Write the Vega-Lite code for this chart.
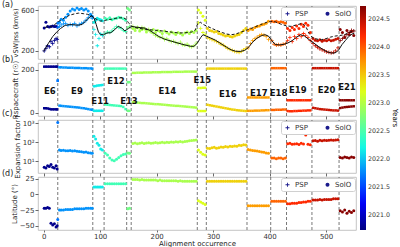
{
  "$schema": "https://vega.github.io/schema/vega-lite/v6.json",
  "padding": {"left": 1, "top": 0, "right": 0, "bottom": 0},
  "config": {
    "font": "DejaVu Sans",
    "view": {"stroke": "#b5b5b5", "strokeWidth": 0.8},
    "axis": {"grid": false, "domain": false, "tickSize": 3, "tickColor": "#444", "tickWidth": 0.8, "labelFontSize": 7, "labelColor": "#333", "labelPadding": 1, "titleFontSize": 7, "titleFontWeight": "normal", "titleColor": "#222", "titlePadding": 2},
    "title": {"fontSize": 8, "fontWeight": "normal", "color": "#222", "anchor": "start", "frame": "group", "dx": -36, "offset": -3.5}
  },
  "datasets": {
    "bounds": [{"b": 25}, {"b": 87}, {"b": 107}, {"b": 147}, {"b": 155}, {"b": 272}, {"b": 288}, {"b": 360}, {"b": 402}, {"b": 430}, {"b": 475}, {"b": 523}],
    "tags": [
      {"e": "E6", "o": 11, "r": 104}, {"e": "E9", "o": 59, "r": 104}, {"e": "E11", "o": 100, "r": 54},
      {"e": "E12", "o": 128, "r": 150}, {"e": "E13", "o": 151, "r": 54}, {"e": "E14", "o": 219, "r": 101},
      {"e": "E15", "o": 281, "r": 152}, {"e": "E16", "o": 326, "r": 90}, {"e": "E17", "o": 381, "r": 93},
      {"e": "E18", "o": 416, "r": 93}, {"e": "E19", "o": 450, "r": 105}, {"e": "E20", "o": 501, "r": 105},
      {"e": "E21", "o": 537, "r": 121}
    ],
    "avgP": [
      {"o": 0, "v": 194}, {"o": 8, "v": 270}, {"o": 16, "v": 340}, {"o": 24, "v": 390}, {"o": 30, "v": 420}, {"o": 38, "v": 450},
      {"o": 46, "v": 458}, {"o": 54, "v": 455}, {"o": 62, "v": 452}, {"o": 68, "v": 460}, {"o": 74, "v": 490}, {"o": 80, "v": 525},
      {"o": 85, "v": 545}, {"o": 89, "v": 525}, {"o": 93, "v": 460}, {"o": 97, "v": 385}, {"o": 101, "v": 360}, {"o": 106, "v": 358},
      {"o": 112, "v": 375}, {"o": 119, "v": 378}, {"o": 126, "v": 410}, {"o": 132, "v": 440}, {"o": 138, "v": 425}, {"o": 144, "v": 395},
      {"o": 150, "v": 420}, {"o": 156, "v": 440}, {"o": 164, "v": 432}, {"o": 172, "v": 428}, {"o": 180, "v": 422}, {"o": 188, "v": 400},
      {"o": 196, "v": 370}, {"o": 204, "v": 340}, {"o": 214, "v": 315}, {"o": 226, "v": 295}, {"o": 238, "v": 276}, {"o": 250, "v": 258},
      {"o": 260, "v": 245}, {"o": 266, "v": 244}, {"o": 272, "v": 275}, {"o": 278, "v": 330}, {"o": 282, "v": 358}, {"o": 288, "v": 345},
      {"o": 296, "v": 325}, {"o": 304, "v": 305}, {"o": 314, "v": 270}, {"o": 324, "v": 235}, {"o": 332, "v": 210}, {"o": 340, "v": 196},
      {"o": 348, "v": 194}, {"o": 356, "v": 205}, {"o": 362, "v": 230}, {"o": 370, "v": 285}, {"o": 378, "v": 325}, {"o": 386, "v": 350},
      {"o": 392, "v": 358}, {"o": 398, "v": 345}, {"o": 404, "v": 300}, {"o": 410, "v": 262}, {"o": 418, "v": 258}, {"o": 426, "v": 265},
      {"o": 432, "v": 276}, {"o": 440, "v": 300}, {"o": 448, "v": 335}, {"o": 455, "v": 358}, {"o": 462, "v": 345}, {"o": 470, "v": 310},
      {"o": 478, "v": 278}, {"o": 486, "v": 245}, {"o": 494, "v": 215}, {"o": 502, "v": 190}, {"o": 510, "v": 178}, {"o": 516, "v": 180},
      {"o": 522, "v": 205}, {"o": 528, "v": 260}, {"o": 534, "v": 300}, {"o": 540, "v": 340}, {"o": 546, "v": 365}, {"o": 550, "v": 372}
    ],
    "avgS": [
      {"o": 2, "v": 430}, {"o": 8, "v": 435}, {"o": 14, "v": 440}, {"o": 20, "v": 460}, {"o": 27, "v": 490}, {"o": 36, "v": 520},
      {"o": 46, "v": 550}, {"o": 56, "v": 565}, {"o": 62, "v": 570}, {"o": 70, "v": 565}, {"o": 78, "v": 558}, {"o": 84, "v": 545},
      {"o": 89, "v": 525}, {"o": 95, "v": 505}, {"o": 100, "v": 492}, {"o": 106, "v": 495}, {"o": 113, "v": 505}, {"o": 120, "v": 510},
      {"o": 128, "v": 520}, {"o": 136, "v": 525}, {"o": 142, "v": 522}, {"o": 146, "v": 510}, {"o": 150, "v": 478}, {"o": 155, "v": 445},
      {"o": 162, "v": 428}, {"o": 170, "v": 420}, {"o": 180, "v": 410}, {"o": 192, "v": 405}, {"o": 202, "v": 400}, {"o": 215, "v": 392},
      {"o": 228, "v": 382}, {"o": 240, "v": 375}, {"o": 252, "v": 378}, {"o": 262, "v": 385}, {"o": 268, "v": 400}, {"o": 273, "v": 470},
      {"o": 278, "v": 480}, {"o": 282, "v": 460}, {"o": 290, "v": 440}, {"o": 298, "v": 420}, {"o": 306, "v": 400}, {"o": 316, "v": 380},
      {"o": 324, "v": 365}, {"o": 332, "v": 358}, {"o": 340, "v": 365}, {"o": 350, "v": 385}, {"o": 361, "v": 407}, {"o": 372, "v": 430},
      {"o": 384, "v": 457}, {"o": 394, "v": 478}, {"o": 402, "v": 490}, {"o": 410, "v": 485}, {"o": 420, "v": 462}, {"o": 430, "v": 445},
      {"o": 438, "v": 440}, {"o": 448, "v": 455}, {"o": 458, "v": 470}, {"o": 464, "v": 440}, {"o": 470, "v": 370}, {"o": 476, "v": 330},
      {"o": 484, "v": 315}, {"o": 492, "v": 310}, {"o": 500, "v": 320}, {"o": 508, "v": 335}, {"o": 516, "v": 345}, {"o": 524, "v": 350},
      {"o": 532, "v": 358}, {"o": 540, "v": 375}, {"o": 546, "v": 392}, {"o": 550, "v": 400}
    ],
    "obs": [
      {"o": 1, "yr": 2020.78, "vp": 200, "vs": 425, "ru": 215, "rl": 22, "f": 5, "lat": -22},
      {"o": 4, "yr": 2020.78, "vp": 225, "vs": 480, "ru": 215, "rl": 22, "f": 4.5, "lat": -22},
      {"o": 7, "yr": 2020.78, "vp": 250, "vs": 440, "ru": 215, "rl": 21, "f": 6, "lat": -21},
      {"o": 10, "yr": 2020.78, "vp": 240, "vs": 435, "ru": 215, "rl": 19, "f": 5.5, "lat": -22},
      {"o": 13, "yr": 2020.78, "vp": 290, "vs": 440, "ru": 215, "rl": 17, "f": 7, "lat": -46},
      {"o": 16, "yr": 2020.78, "vp": 270, "vs": 445, "ru": 215, "rl": 17, "f": 5, "lat": -49},
      {"o": 19, "yr": 2020.78, "vp": 300, "vs": 440, "ru": 215, "rl": 17, "f": 4.5, "lat": -47},
      {"o": 22, "yr": 2020.78, "vp": 320, "vs": 440, "ru": 215, "rl": 17, "f": 6, "lat": -52},
      {"o": 24, "yr": 2020.78, "vp": 310, "vs": 435, "ru": 215, "rl": 17, "f": 4, "lat": -50},
      {"o": 25, "yr": 2021.7, "vp": 430, "vs": 470, "ru": 150, "rl": 150, "f": 1100, "lat": -40},
      {"o": 28, "yr": 2021.8, "vp": 440, "vs": 480, "ru": 212, "rl": 34, "f": 40, "lat": -25},
      {"o": 31, "yr": 2021.8, "vp": 455, "vs": 510, "ru": 212, "rl": 33, "f": 38, "lat": -25},
      {"o": 35, "yr": 2021.8, "vp": 465, "vs": 500, "ru": 211, "rl": 32, "f": 39, "lat": -25},
      {"o": 39, "yr": 2021.8, "vp": 470, "vs": 530, "ru": 211, "rl": 31, "f": 37, "lat": -24},
      {"o": 43, "yr": 2021.8, "vp": 450, "vs": 560, "ru": 210, "rl": 30, "f": 36, "lat": -24},
      {"o": 47, "yr": 2021.8, "vp": 460, "vs": 590, "ru": 210, "rl": 29, "f": 38, "lat": -24},
      {"o": 51, "yr": 2021.8, "vp": 455, "vs": 610, "ru": 210, "rl": 28, "f": 35, "lat": -24},
      {"o": 55, "yr": 2021.8, "vp": 470, "vs": 600, "ru": 209, "rl": 27, "f": 36, "lat": -23},
      {"o": 59, "yr": 2021.8, "vp": 445, "vs": 620, "ru": 209, "rl": 26, "f": 34, "lat": -23},
      {"o": 63, "yr": 2021.8, "vp": 460, "vs": 605, "ru": 209, "rl": 25, "f": 33, "lat": -23},
      {"o": 67, "yr": 2021.8, "vp": 470, "vs": 615, "ru": 208, "rl": 23, "f": 32, "lat": -23},
      {"o": 71, "yr": 2021.8, "vp": 480, "vs": 600, "ru": 208, "rl": 22, "f": 30, "lat": -23},
      {"o": 75, "yr": 2021.8, "vp": 500, "vs": 610, "ru": 208, "rl": 20, "f": 31, "lat": -22},
      {"o": 79, "yr": 2021.8, "vp": 525, "vs": 590, "ru": 207, "rl": 18, "f": 29, "lat": -22},
      {"o": 83, "yr": 2021.8, "vp": 545, "vs": 560, "ru": 207, "rl": 16, "f": 28, "lat": -22},
      {"o": 86, "yr": 2021.8, "vp": 520, "vs": 540, "ru": 206, "rl": 15, "f": 27, "lat": -22},
      {"o": 89, "yr": 2022.15, "vp": 410, "vs": 480, "ru": 124, "rl": 10, "f": 210, "lat": 12},
      {"o": 92, "yr": 2022.15, "vp": 360, "vs": 500, "ru": 125, "rl": 10, "f": 150, "lat": 12},
      {"o": 95, "yr": 2022.15, "vp": 250, "vs": 520, "ru": 127, "rl": 10, "f": 90, "lat": 12},
      {"o": 98, "yr": 2022.15, "vp": 320, "vs": 510, "ru": 128, "rl": 10, "f": 70, "lat": 12},
      {"o": 101, "yr": 2022.15, "vp": 365, "vs": 505, "ru": 129, "rl": 10, "f": 45, "lat": 12},
      {"o": 104, "yr": 2022.15, "vp": 350, "vs": 495, "ru": 130, "rl": 10, "f": 40, "lat": 12},
      {"o": 109, "yr": 2022.45, "vp": 370, "vs": 520, "ru": 206, "rl": 39, "f": 27, "lat": 17},
      {"o": 113, "yr": 2022.45, "vp": 385, "vs": 510, "ru": 206, "rl": 38, "f": 22, "lat": 17},
      {"o": 117, "yr": 2022.45, "vp": 380, "vs": 525, "ru": 206, "rl": 37, "f": 15, "lat": 17},
      {"o": 121, "yr": 2022.45, "vp": 395, "vs": 505, "ru": 206, "rl": 36, "f": 12, "lat": 17},
      {"o": 125, "yr": 2022.45, "vp": 420, "vs": 515, "ru": 206, "rl": 35, "f": 11, "lat": 17},
      {"o": 129, "yr": 2022.45, "vp": 440, "vs": 520, "ru": 206, "rl": 34, "f": 13, "lat": 17},
      {"o": 133, "yr": 2022.45, "vp": 430, "vs": 530, "ru": 206, "rl": 33, "f": 16, "lat": 17},
      {"o": 137, "yr": 2022.45, "vp": 420, "vs": 525, "ru": 206, "rl": 32, "f": 20, "lat": 17},
      {"o": 141, "yr": 2022.45, "vp": 400, "vs": 515, "ru": 206, "rl": 28, "f": 23, "lat": 17},
      {"o": 145, "yr": 2022.45, "vp": 390, "vs": 500, "ru": 206, "rl": 18, "f": 25, "lat": 17},
      {"o": 149, "yr": 2022.68, "vp": 425, "vs": 615, "ru": 143, "rl": 10, "f": 28, "lat": -23},
      {"o": 152, "yr": 2022.68, "vp": 440, "vs": 600, "ru": 143, "rl": 10, "f": 27, "lat": -22},
      {"o": 158, "yr": 2022.95, "vp": 440, "vs": 420, "ru": 186, "rl": 50, "f": 88, "lat": 24},
      {"o": 162, "yr": 2022.95, "vp": 420, "vs": 400, "ru": 186, "rl": 49, "f": 92, "lat": 24},
      {"o": 166, "yr": 2022.95, "vp": 430, "vs": 430, "ru": 187, "rl": 48, "f": 85, "lat": 24},
      {"o": 170, "yr": 2022.95, "vp": 415, "vs": 395, "ru": 187, "rl": 47, "f": 90, "lat": 23},
      {"o": 174, "yr": 2022.95, "vp": 430, "vs": 410, "ru": 187, "rl": 46, "f": 95, "lat": 24},
      {"o": 178, "yr": 2022.95, "vp": 420, "vs": 420, "ru": 188, "rl": 46, "f": 88, "lat": 23},
      {"o": 182, "yr": 2022.95, "vp": 400, "vs": 385, "ru": 188, "rl": 45, "f": 92, "lat": 23},
      {"o": 186, "yr": 2022.95, "vp": 410, "vs": 405, "ru": 188, "rl": 44, "f": 96, "lat": 23},
      {"o": 190, "yr": 2022.95, "vp": 385, "vs": 395, "ru": 188, "rl": 43, "f": 90, "lat": 23},
      {"o": 194, "yr": 2022.95, "vp": 370, "vs": 410, "ru": 189, "rl": 42, "f": 94, "lat": 23},
      {"o": 198, "yr": 2022.95, "vp": 350, "vs": 380, "ru": 189, "rl": 41, "f": 98, "lat": 23},
      {"o": 202, "yr": 2022.95, "vp": 345, "vs": 400, "ru": 189, "rl": 41, "f": 92, "lat": 22},
      {"o": 206, "yr": 2022.95, "vp": 330, "vs": 390, "ru": 189, "rl": 40, "f": 95, "lat": 23},
      {"o": 210, "yr": 2022.95, "vp": 335, "vs": 370, "ru": 190, "rl": 39, "f": 100, "lat": 22},
      {"o": 214, "yr": 2022.95, "vp": 310, "vs": 395, "ru": 190, "rl": 38, "f": 97, "lat": 22},
      {"o": 218, "yr": 2022.95, "vp": 320, "vs": 380, "ru": 190, "rl": 37, "f": 102, "lat": 22},
      {"o": 222, "yr": 2022.95, "vp": 300, "vs": 365, "ru": 190, "rl": 36, "f": 98, "lat": 22},
      {"o": 226, "yr": 2022.95, "vp": 290, "vs": 385, "ru": 190, "rl": 35, "f": 105, "lat": 22},
      {"o": 230, "yr": 2022.95, "vp": 295, "vs": 375, "ru": 191, "rl": 34, "f": 100, "lat": 22},
      {"o": 234, "yr": 2022.95, "vp": 280, "vs": 360, "ru": 191, "rl": 33, "f": 108, "lat": 22},
      {"o": 238, "yr": 2022.95, "vp": 270, "vs": 380, "ru": 191, "rl": 33, "f": 104, "lat": 21},
      {"o": 242, "yr": 2022.95, "vp": 285, "vs": 370, "ru": 191, "rl": 32, "f": 110, "lat": 22},
      {"o": 246, "yr": 2022.95, "vp": 260, "vs": 355, "ru": 191, "rl": 31, "f": 106, "lat": 21},
      {"o": 250, "yr": 2022.95, "vp": 255, "vs": 375, "ru": 192, "rl": 30, "f": 112, "lat": 21},
      {"o": 254, "yr": 2022.95, "vp": 265, "vs": 385, "ru": 192, "rl": 29, "f": 115, "lat": 21},
      {"o": 258, "yr": 2022.95, "vp": 245, "vs": 370, "ru": 192, "rl": 28, "f": 120, "lat": 21},
      {"o": 262, "yr": 2022.95, "vp": 240, "vs": 390, "ru": 192, "rl": 27, "f": 125, "lat": 21},
      {"o": 266, "yr": 2022.95, "vp": 250, "vs": 380, "ru": 192, "rl": 26, "f": 130, "lat": 21},
      {"o": 270, "yr": 2022.95, "vp": 275, "vs": 400, "ru": 192, "rl": 25, "f": 135, "lat": 21},
      {"o": 274, "yr": 2023.2, "vp": 475, "vs": 600, "ru": 116, "rl": 9, "f": 40, "lat": -10},
      {"o": 278, "yr": 2023.2, "vp": 420, "vs": 575, "ru": 116, "rl": 9, "f": 30, "lat": -12},
      {"o": 282, "yr": 2023.2, "vp": 380, "vs": 540, "ru": 117, "rl": 9, "f": 24, "lat": -14},
      {"o": 286, "yr": 2023.2, "vp": 360, "vs": 500, "ru": 117, "rl": 9, "f": 22, "lat": -16},
      {"o": 290, "yr": 2023.45, "vp": 330, "vs": 420, "ru": 206, "rl": 38, "f": 50, "lat": 21},
      {"o": 294, "yr": 2023.45, "vp": 320, "vs": 400, "ru": 206, "rl": 36, "f": 48, "lat": 21},
      {"o": 298, "yr": 2023.45, "vp": 310, "vs": 395, "ru": 206, "rl": 34, "f": 52, "lat": 21},
      {"o": 302, "yr": 2023.45, "vp": 300, "vs": 385, "ru": 206, "rl": 32, "f": 55, "lat": 21},
      {"o": 306, "yr": 2023.45, "vp": 290, "vs": 390, "ru": 206, "rl": 30, "f": 50, "lat": 21},
      {"o": 310, "yr": 2023.45, "vp": 280, "vs": 370, "ru": 206, "rl": 28, "f": 53, "lat": 21},
      {"o": 314, "yr": 2023.45, "vp": 265, "vs": 365, "ru": 206, "rl": 26, "f": 57, "lat": 21},
      {"o": 318, "yr": 2023.45, "vp": 255, "vs": 355, "ru": 206, "rl": 24, "f": 55, "lat": 21},
      {"o": 322, "yr": 2023.45, "vp": 240, "vs": 345, "ru": 206, "rl": 22, "f": 60, "lat": 21},
      {"o": 326, "yr": 2023.45, "vp": 225, "vs": 350, "ru": 206, "rl": 20, "f": 58, "lat": 21},
      {"o": 330, "yr": 2023.45, "vp": 215, "vs": 340, "ru": 206, "rl": 18, "f": 62, "lat": 21},
      {"o": 334, "yr": 2023.45, "vp": 205, "vs": 335, "ru": 206, "rl": 16, "f": 60, "lat": 21},
      {"o": 338, "yr": 2023.45, "vp": 195, "vs": 345, "ru": 206, "rl": 15, "f": 65, "lat": 21},
      {"o": 342, "yr": 2023.45, "vp": 190, "vs": 355, "ru": 206, "rl": 13, "f": 62, "lat": 21},
      {"o": 346, "yr": 2023.45, "vp": 185, "vs": 360, "ru": 206, "rl": 12, "f": 70, "lat": 21},
      {"o": 350, "yr": 2023.45, "vp": 195, "vs": 380, "ru": 206, "rl": 11, "f": 68, "lat": 21},
      {"o": 354, "yr": 2023.45, "vp": 210, "vs": 400, "ru": 206, "rl": 10, "f": 75, "lat": 21},
      {"o": 358, "yr": 2023.45, "vp": 225, "vs": 420, "ru": 206, "rl": 9, "f": 72, "lat": 21},
      {"o": 362, "yr": 2023.7, "vp": 230, "vs": 400, "ru": 72, "rl": 10, "f": 42, "lat": -18},
      {"o": 366, "yr": 2023.7, "vp": 270, "vs": 415, "ru": 72, "rl": 10, "f": 40, "lat": -18},
      {"o": 370, "yr": 2023.7, "vp": 300, "vs": 410, "ru": 72, "rl": 10, "f": 38, "lat": -18},
      {"o": 374, "yr": 2023.7, "vp": 320, "vs": 430, "ru": 72, "rl": 11, "f": 37, "lat": -18},
      {"o": 378, "yr": 2023.7, "vp": 335, "vs": 440, "ru": 72, "rl": 11, "f": 35, "lat": -18},
      {"o": 382, "yr": 2023.7, "vp": 350, "vs": 445, "ru": 72, "rl": 11, "f": 33, "lat": -18},
      {"o": 386, "yr": 2023.7, "vp": 360, "vs": 455, "ru": 72, "rl": 12, "f": 31, "lat": -18},
      {"o": 390, "yr": 2023.7, "vp": 355, "vs": 460, "ru": 72, "rl": 12, "f": 30, "lat": -18},
      {"o": 394, "yr": 2023.7, "vp": 340, "vs": 470, "ru": 72, "rl": 13, "f": 28, "lat": -18},
      {"o": 398, "yr": 2023.7, "vp": 310, "vs": 490, "ru": 72, "rl": 13, "f": 27, "lat": -18},
      {"o": 404, "yr": 2023.95, "vp": 300, "vs": 490, "ru": 208, "rl": 14, "f": 15, "lat": -11},
      {"o": 408, "yr": 2023.95, "vp": 265, "vs": 485, "ru": 208, "rl": 14, "f": 15, "lat": -11},
      {"o": 412, "yr": 2023.95, "vp": 255, "vs": 490, "ru": 208, "rl": 15, "f": 14, "lat": -11},
      {"o": 416, "yr": 2023.95, "vp": 260, "vs": 480, "ru": 208, "rl": 15, "f": 15, "lat": -11},
      {"o": 420, "yr": 2023.95, "vp": 255, "vs": 485, "ru": 208, "rl": 15, "f": 15, "lat": -11},
      {"o": 424, "yr": 2023.95, "vp": 265, "vs": 480, "ru": 208, "rl": 16, "f": 14, "lat": -11},
      {"o": 428, "yr": 2023.95, "vp": 270, "vs": 470, "ru": 208, "rl": 16, "f": 15, "lat": -11},
      {"o": 432, "yr": 2024.2, "vp": 300, "vs": 420, "ru": 59, "rl": 9, "f": 85, "lat": -15},
      {"o": 436, "yr": 2024.2, "vp": 330, "vs": 400, "ru": 59, "rl": 8, "f": 90, "lat": -15},
      {"o": 440, "yr": 2024.2, "vp": 290, "vs": 430, "ru": 59, "rl": 8, "f": 80, "lat": -14},
      {"o": 444, "yr": 2024.2, "vp": 340, "vs": 410, "ru": 59, "rl": 9, "f": 82, "lat": -14},
      {"o": 448, "yr": 2024.2, "vp": 320, "vs": 445, "ru": 59, "rl": 9, "f": 85, "lat": -14},
      {"o": 452, "yr": 2024.2, "vp": 360, "vs": 420, "ru": 59, "rl": 10, "f": 78, "lat": -13},
      {"o": 456, "yr": 2024.2, "vp": 340, "vs": 460, "ru": 59, "rl": 10, "f": 90, "lat": -13},
      {"o": 460, "yr": 2024.2, "vp": 370, "vs": 440, "ru": 59, "rl": 11, "f": 82, "lat": -12},
      {"o": 464, "yr": 2024.2, "vp": 350, "vs": 470, "ru": 59, "rl": 11, "f": 245, "lat": -12},
      {"o": 468, "yr": 2024.2, "vp": 330, "vs": 450, "ru": 59, "rl": 12, "f": 80, "lat": -11},
      {"o": 472, "yr": 2024.2, "vp": 300, "vs": 380, "ru": 59, "rl": 12, "f": 75, "lat": -11},
      {"o": 477, "yr": 2024.45, "vp": 270, "vs": 320, "ru": 208, "rl": 24, "f": 120, "lat": -9},
      {"o": 481, "yr": 2024.45, "vp": 250, "vs": 305, "ru": 208, "rl": 22, "f": 125, "lat": -9},
      {"o": 485, "yr": 2024.45, "vp": 235, "vs": 300, "ru": 208, "rl": 20, "f": 115, "lat": -9},
      {"o": 489, "yr": 2024.45, "vp": 220, "vs": 310, "ru": 208, "rl": 18, "f": 130, "lat": -8},
      {"o": 493, "yr": 2024.45, "vp": 210, "vs": 295, "ru": 208, "rl": 17, "f": 120, "lat": -9},
      {"o": 497, "yr": 2024.45, "vp": 200, "vs": 305, "ru": 208, "rl": 16, "f": 128, "lat": -8},
      {"o": 501, "yr": 2024.45, "vp": 190, "vs": 300, "ru": 208, "rl": 15, "f": 125, "lat": -8},
      {"o": 505, "yr": 2024.45, "vp": 185, "vs": 310, "ru": 208, "rl": 14, "f": 130, "lat": -8},
      {"o": 509, "yr": 2024.45, "vp": 180, "vs": 300, "ru": 208, "rl": 13, "f": 135, "lat": -8},
      {"o": 513, "yr": 2024.45, "vp": 185, "vs": 305, "ru": 208, "rl": 12, "f": 128, "lat": -7},
      {"o": 517, "yr": 2024.45, "vp": 200, "vs": 315, "ru": 208, "rl": 12, "f": 132, "lat": -7},
      {"o": 521, "yr": 2024.45, "vp": 230, "vs": 320, "ru": 208, "rl": 11, "f": 138, "lat": -7},
      {"o": 525, "yr": 2024.7, "vp": 300, "vs": 410, "ru": 59, "rl": 23, "f": 16, "lat": -26},
      {"o": 529, "yr": 2024.7, "vp": 320, "vs": 380, "ru": 59, "rl": 25, "f": 15, "lat": -28},
      {"o": 533, "yr": 2024.7, "vp": 345, "vs": 330, "ru": 59, "rl": 27, "f": 17, "lat": -25},
      {"o": 537, "yr": 2024.7, "vp": 360, "vs": 400, "ru": 59, "rl": 28, "f": 16, "lat": -30},
      {"o": 541, "yr": 2024.7, "vp": 380, "vs": 360, "ru": 59, "rl": 29, "f": 15, "lat": -27},
      {"o": 545, "yr": 2024.7, "vp": 400, "vs": 390, "ru": 59, "rl": 30, "f": 17, "lat": -29},
      {"o": 549, "yr": 2024.7, "vp": 395, "vs": 350, "ru": 59, "rl": 31, "f": 16, "lat": -26}
    ]
  },
  "bounds": "flush",
  "spacing": 4,
  "resolve": {"scale": {"color": "shared", "shape": "independent"}, "legend": {"color": "shared", "shape": "independent"}},
  "vconcat": [
    {
      "width": 318, "height": 53,
      "title": {"text": "(a)"},
      "layer": [
        {"data": {"name": "bounds"}, "mark": {"type": "rule", "strokeDash": [3, 2], "color": "#555", "strokeWidth": 0.8},
         "encoding": {"x": {"field": "b", "type": "quantitative", "scale": {"domain": [-10, 553], "nice": false, "zero": false}, "axis": {"labels": false, "title": null, "values": [0, 100, 200, 300, 400, 500]}}}},
        {"data": {"name": "obs"}, "mark": {"type": "point", "filled": true, "size": 9, "opacity": 1},
         "encoding": {
           "x": {"field": "o", "type": "quantitative"},
           "y": {"field": "vs", "type": "quantitative", "scale": {"domain": [120, 640], "nice": false, "zero": false}, "axis": {"values": [200, 400, 600], "title": "vSW|rss (km/s)", "titleFontSize": 6.5}},
           "color": {"field": "yr", "type": "quantitative", "scale": {"domain": [2020.73, 2024.73], "range": ["#000080", "#0000ff", "#0080ff", "#14ffe3", "#7bff7b", "#e3ff14", "#ff9700", "#ff2200", "#800000"], "interpolate": "rgb"},
             "legend": {"type": "gradient", "title": "Years", "titleOrient": "right", "gradientLength": 224, "gradientThickness": 6, "values": [2021, 2021.5, 2022, 2022.5, 2023, 2023.5, 2024, 2024.5], "format": ".1f", "labelFontSize": 6.3, "labelColor": "#333", "labelOffset": 2, "titleFontSize": 7, "titleFontWeight": "normal", "titlePadding": 2, "offset": 3, "labelOverlap": false}},
           "shape": {"datum": "SolO", "type": "nominal", "scale": {"domain": ["PSP", "SolO"], "range": ["M-1,-0.22H-0.22V-1H0.22V-0.22H1V0.22H0.22V1H-0.22V0.22H-1Z", "circle"]},
             "legend": {"orient": "top-right", "direction": "horizontal", "title": null, "fillColor": "white", "strokeColor": "#d0d0d0", "padding": 3, "offset": 1, "cornerRadius": 2, "labelFontSize": 7, "labelColor": "#333", "symbolSize": 16, "columnPadding": 16, "symbolFillColor": "#1a1a8c", "symbolStrokeWidth": 0}}
         }},
        {"data": {"name": "obs"}, "mark": {"type": "point", "filled": true, "size": 14, "opacity": 1},
         "encoding": {
           "x": {"field": "o", "type": "quantitative"},
           "y": {"field": "vp", "type": "quantitative"},
           "color": {"field": "yr", "type": "quantitative"},
           "shape": {"datum": "PSP", "type": "nominal"}
         }},
        {"data": {"name": "avgP"}, "mark": {"type": "line", "color": "#111", "strokeWidth": 1},
         "encoding": {"x": {"field": "o", "type": "quantitative"}, "y": {"field": "v", "type": "quantitative"}}},
        {"data": {"name": "avgS"}, "mark": {"type": "line", "color": "#111", "strokeWidth": 1, "strokeDash": [3, 2]},
         "encoding": {"x": {"field": "o", "type": "quantitative"}, "y": {"field": "v", "type": "quantitative"}}}
      ]
    },
    {
      "width": 318, "height": 53,
      "title": {"text": "(b)"},
      "layer": [
        {"data": {"name": "bounds"}, "mark": {"type": "rule", "strokeDash": [3, 2], "color": "#555", "strokeWidth": 0.8},
         "encoding": {"x": {"field": "b", "type": "quantitative", "scale": {"domain": [-10, 553], "nice": false, "zero": false}, "axis": {"labels": false, "title": null, "values": [0, 100, 200, 300, 400, 500]}}}},
        {"data": {"name": "obs"}, "mark": {"type": "square", "size": 6, "opacity": 1},
         "encoding": {
           "x": {"field": "o", "type": "quantitative"},
           "y": {"field": "ru", "type": "quantitative", "scale": {"domain": [-14, 232], "nice": false, "zero": false}, "axis": {"values": [0, 100, 200], "title": "Rspacecraft (r☉)"}},
           "color": {"field": "yr", "type": "quantitative"}
         }},
        {"data": {"name": "obs"}, "mark": {"type": "square", "size": 6, "opacity": 1},
         "encoding": {
           "x": {"field": "o", "type": "quantitative"},
           "y": {"field": "rl", "type": "quantitative"},
           "color": {"field": "yr", "type": "quantitative"}
         }},
        {"data": {"name": "tags"}, "mark": {"type": "text", "fontSize": 8.5, "fontWeight": "bold", "color": "#111"},
         "encoding": {
           "x": {"field": "o", "type": "quantitative"},
           "y": {"field": "r", "type": "quantitative"},
           "text": {"field": "e"}
         }}
      ]
    },
    {
      "width": 318, "height": 53,
      "title": {"text": "(c)"},
      "layer": [
        {"data": {"name": "bounds"}, "mark": {"type": "rule", "strokeDash": [3, 2], "color": "#555", "strokeWidth": 0.8},
         "encoding": {"x": {"field": "b", "type": "quantitative", "scale": {"domain": [-10, 553], "nice": false, "zero": false}, "axis": {"labels": false, "title": null, "values": [0, 100, 200, 300, 400, 500]}}}},
        {"data": {"name": "obs"}, "mark": {"type": "point", "filled": true, "size": 9, "opacity": 1},
         "encoding": {
           "x": {"field": "o", "type": "quantitative"},
           "y": {"field": "f", "type": "quantitative", "scale": {"type": "log", "domain": [2.5, 1480], "nice": false}, "axis": {"values": [10, 100, 1000], "labelExpr": "datum.value == 10 ? '10¹' : datum.value == 100 ? '10²' : '10³'", "title": "Expansion factor f"}},
           "color": {"field": "yr", "type": "quantitative"},
           "shape": {"datum": "SolO", "type": "nominal", "scale": {"domain": ["PSP", "SolO"], "range": ["M-1,-0.22H-0.22V-1H0.22V-0.22H1V0.22H0.22V1H-0.22V0.22H-1Z", "circle"]},
             "legend": {"orient": "top-right", "direction": "horizontal", "title": null, "fillColor": "white", "strokeColor": "#d0d0d0", "padding": 3, "offset": 1, "cornerRadius": 2, "labelFontSize": 7, "labelColor": "#333", "symbolSize": 16, "columnPadding": 16, "symbolFillColor": "#1a1a8c", "symbolStrokeWidth": 0}}
         }}
      ]
    },
    {
      "width": 318, "height": 53,
      "title": {"text": "(d)"},
      "layer": [
        {"data": {"name": "bounds"}, "mark": {"type": "rule", "strokeDash": [3, 2], "color": "#555", "strokeWidth": 0.8},
         "encoding": {"x": {"field": "b", "type": "quantitative", "scale": {"domain": [-10, 553], "nice": false, "zero": false}, "axis": {"values": [0, 100, 200, 300, 400, 500], "title": "Alignment occurrence", "titlePadding": 0, "tickSize": 2, "labelPadding": 0}}}},
        {"data": {"name": "obs"}, "mark": {"type": "point", "filled": true, "size": 9, "opacity": 1},
         "encoding": {
           "x": {"field": "o", "type": "quantitative"},
           "y": {"field": "lat", "type": "quantitative", "scale": {"domain": [-57, 28], "nice": false, "zero": false}, "axis": {"values": [-50, -25, 0, 25], "title": "Latitude (°)"}},
           "color": {"field": "yr", "type": "quantitative"},
           "shape": {"datum": "SolO", "type": "nominal", "scale": {"domain": ["PSP", "SolO"], "range": ["M-1,-0.22H-0.22V-1H0.22V-0.22H1V0.22H0.22V1H-0.22V0.22H-1Z", "circle"]},
             "legend": {"orient": "top-right", "direction": "horizontal", "title": null, "fillColor": "white", "strokeColor": "#d0d0d0", "padding": 3, "offset": 1, "cornerRadius": 2, "labelFontSize": 7, "labelColor": "#333", "symbolSize": 16, "columnPadding": 16, "symbolFillColor": "#1a1a8c", "symbolStrokeWidth": 0}}
         }}
      ]
    }
  ]
}
